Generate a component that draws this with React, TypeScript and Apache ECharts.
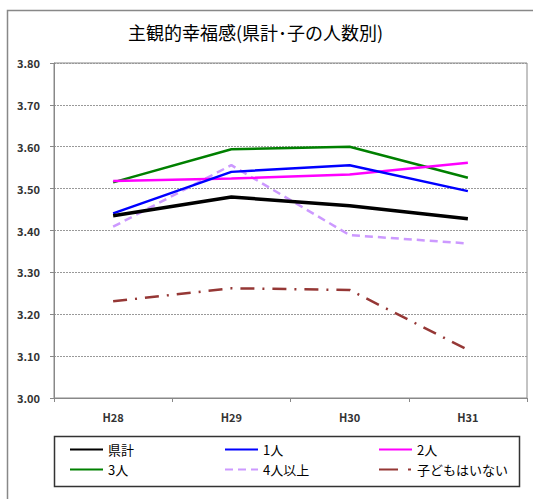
import React, { useEffect, useRef } from "react";
import * as echarts from "echarts";

const categories = ["H28", "H29", "H30", "H31"];
const seriesNames = ["県計", "1人", "2人", "3人", "4人以上", "子どもはいない"];
const kenkei = [3.435, 3.48, 3.459, 3.428];
const hitori = [3.441, 3.54, 3.556, 3.494];
const futari = [3.518, 3.524, 3.534, 3.562];
const sannin = [3.515, 3.594, 3.6, 3.526];
const yonin = [3.409, 3.556, 3.389, 3.369];
const nashi = [3.231, 3.262, 3.258, 3.115];
const yTicks = [3.0, 3.1, 3.2, 3.3, 3.4, 3.5, 3.6, 3.7, 3.8];

const FONT = "'Noto Sans CJK JP', 'Noto Sans', sans-serif";

export default function App() {
  const ref = useRef<HTMLDivElement>(null);
  useEffect(() => {
    if (!ref.current) return;
    const chart = echarts.init(ref.current, null, { renderer: "svg" });
    const styles = [
      { color: "#000000", width: 3.5, type: "solid" as any },
      { color: "#0000ff", width: 2.5, type: "solid" as any },
      { color: "#ff00ff", width: 2.5, type: "solid" as any },
      { color: "#008000", width: 2.5, type: "solid" as any },
      { color: "#cc99ff", width: 2.5, type: [8, 5] as any },
      { color: "#953735", width: 2.5, type: [14, 8, 2, 8] as any },
    ];
    const values = [kenkei, hitori, futari, sannin, yonin, nashi];
    const legendItem = (i: number) => ({
      name: seriesNames[i],
      lineStyle: i === 5 ? { type: [19, 10, 3, 10] } : i === 4 ? { type: [8, 5] } : undefined,
    });
    const legendBase = {
      orient: "vertical" as const,
      top: 443,
      itemWidth: 33,
      itemHeight: 14,
      itemGap: 7,
      padding: 0,
      selectedMode: false,
      itemStyle: { color: "rgba(0,0,0,0)", borderColor: "rgba(0,0,0,0)", borderWidth: 0, opacity: 0 },
      textStyle: { fontFamily: FONT, fontSize: 13, color: "#000" },
    };
    chart.setOption({
      animation: false,
      title: {
        text: "主観的幸福感(県計･子の人数別)",
        left: 128,
        top: 23,
        padding: 0,
        textStyle: { fontFamily: FONT, fontSize: 18, fontWeight: "normal", color: "#000" },
      },
      grid: {
        left: 54,
        right: 6,
        top: 63,
        bottom: 101,
        show: true,
        borderColor: "#888",
        borderWidth: 1,
      },
      legend: [
        { ...legendBase, left: 69, data: [legendItem(0), legendItem(3)] },
        { ...legendBase, left: 224, data: [legendItem(1), legendItem(4)] },
        { ...legendBase, left: 378, data: [legendItem(2), legendItem(5)] },
      ],
      graphic: [
        {
          type: "rect",
          shape: { x: 7.5, y: 10.5, width: 540, height: 500 },
          style: { fill: "none", stroke: "#888", lineWidth: 1.5 },
          silent: true,
        },
        {
          type: "rect",
          shape: { x: 54.5, y: 436.5, width: 465, height: 50 },
          style: { fill: "none", stroke: "#333", lineWidth: 1.5 },
          silent: true,
        },
      ],
      xAxis: {
        type: "category",
        data: categories,
        boundaryGap: true,
        axisLine: { show: true, lineStyle: { color: "#888", width: 1 } },
        axisTick: { show: true, length: 4, alignWithLabel: false, lineStyle: { color: "#888" } },
        axisLabel: { fontFamily: FONT, fontSize: 11, fontWeight: "bold", color: "#333", margin: 13 },
        splitLine: { show: false },
      },
      yAxis: {
        type: "value",
        min: yTicks[0],
        max: yTicks[yTicks.length - 1],
        interval: 0.1,
        axisLine: { show: true, lineStyle: { color: "#888", width: 1 } },
        axisTick: { show: true, length: 4, lineStyle: { color: "#888" } },
        axisLabel: {
          fontFamily: FONT,
          fontSize: 11,
          fontWeight: "bold",
          color: "#333",
          margin: 14,
          formatter: (v: number) => v.toFixed(2),
        },
        splitLine: { show: true, lineStyle: { color: "#999", type: [2, 1], width: 1 } },
      },
      series: seriesNames.map((name, i) => ({
        name,
        type: "line",
        data: values[i],
        symbol: "none",
        showSymbol: false,
        z: 10 - i,
        itemStyle: { color: styles[i].color },
        lineStyle: { color: styles[i].color, width: styles[i].width, type: styles[i].type },
      })),
    });
    return () => chart.dispose();
  }, []);
  return (
    <div
      ref={ref}
      style={{ position: "fixed", left: 0, top: 0, width: 533, height: 499, background: "#fff" }}
    />
  );
}
